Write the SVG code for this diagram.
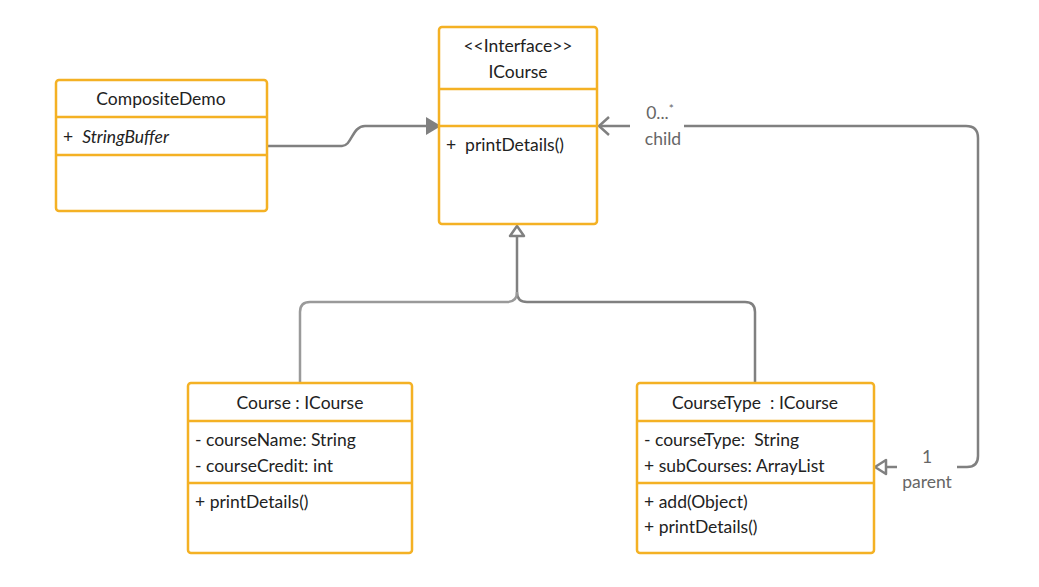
<svg xmlns="http://www.w3.org/2000/svg" width="1039" height="587" viewBox="0 0 1039 587">
<style>
.box{fill:#fff;stroke:#F4B124;stroke-width:2.5}
.div{stroke:#F4B124;stroke-width:2.5}
.t{font-family:Lato,"Open Sans","Liberation Sans",sans-serif;font-size:17.5px;fill:#222;white-space:pre}
.c{text-anchor:middle}
.lbl{font-family:Lato,"Open Sans","Liberation Sans",sans-serif;font-size:17.5px;fill:#666;text-anchor:middle}
.ln{fill:none;stroke:#808080;stroke-width:2.5}
.ln2{fill:none;stroke:#9a9a9a;stroke-width:2.5}
</style>
<rect width="1039" height="587" fill="#fff"/>
<g id="connectors">
<path class="ln" d="M267,146 H342 C352,146 352,126 365,126 H427"/>
<path d="M426,117 L441,126 L426,135 Z" fill="#808080"/>
<path class="ln" d="M517,237 V292 Q517,302 527,302 H745 Q755,302 755,312 V383"/>
<path class="ln2" d="M517,292 Q517,302 507,302 H310 Q300,302 300,312 V383"/>
<path d="M517,226 L524,236 L510,236 Z" fill="#fff" stroke="#808080" stroke-width="2.5" stroke-linejoin="round"/>
<path class="ln" d="M599,126 H630 M684,126 H966 Q978,126 978,138 V456 Q978,467 967,467 H957"/>
<path class="ln" d="M609,117 L599,126 L609,135"/>
<path class="ln" d="M897,467 H886"/>
<path d="M875,467 L886,460 L886,474 Z" fill="#fff" stroke="#808080" stroke-width="2.5" stroke-linejoin="round"/>
<text class="lbl" x="660" y="119">0...<tspan font-size="12" dy="-6">*</tspan></text>
<text class="lbl" x="663" y="145">child</text>
<text class="lbl" x="927" y="463">1</text>
<text class="lbl" x="927" y="488">parent</text>
</g>
<g id="ICourse">
<rect class="box" x="439" y="27" width="158" height="197" rx="3"/>
<line class="div" x1="439" y1="89" x2="597" y2="89"/>
<line class="div" x1="439" y1="126" x2="597" y2="126"/>
<text class="t c" x="518" y="52" font-size="16.5">&lt;&lt;Interface&gt;&gt;</text>
<text class="t c" x="518" y="78">ICourse</text>
<text class="t" x="446" y="151">+&#160; printDetails()</text>
</g>
<g id="CompositeDemo">
<rect class="box" x="56" y="80" width="211" height="131" rx="3"/>
<line class="div" x1="56" y1="117" x2="267" y2="117"/>
<line class="div" x1="56" y1="155" x2="267" y2="155"/>
<text class="t c" x="161" y="105">CompositeDemo</text>
<text class="t" x="63" y="143">+&#160; <tspan font-style="italic">StringBuffer</tspan></text>
</g>
<g id="Course">
<rect class="box" x="188" y="383" width="224" height="170" rx="3"/>
<line class="div" x1="188" y1="421" x2="412" y2="421"/>
<line class="div" x1="188" y1="483" x2="412" y2="483"/>
<text class="t c" x="300" y="409">Course : ICourse</text>
<text class="t" x="195" y="446">- courseName: String</text>
<text class="t" x="195" y="472">- courseCredit: int</text>
<text class="t" x="195" y="508">+ printDetails()</text>
</g>
<g id="CourseType">
<rect class="box" x="637" y="383" width="237" height="170" rx="3"/>
<line class="div" x1="637" y1="421" x2="874" y2="421"/>
<line class="div" x1="637" y1="483" x2="874" y2="483"/>
<text class="t c" x="755" y="409">CourseType&#160; : ICourse</text>
<text class="t" x="644" y="446">- courseType:&#160; String</text>
<text class="t" x="644" y="472">+ subCourses: ArrayList</text>
<text class="t" x="644" y="508">+ add(Object)</text>
<text class="t" x="644" y="533">+ printDetails()</text>
</g>
</svg>
